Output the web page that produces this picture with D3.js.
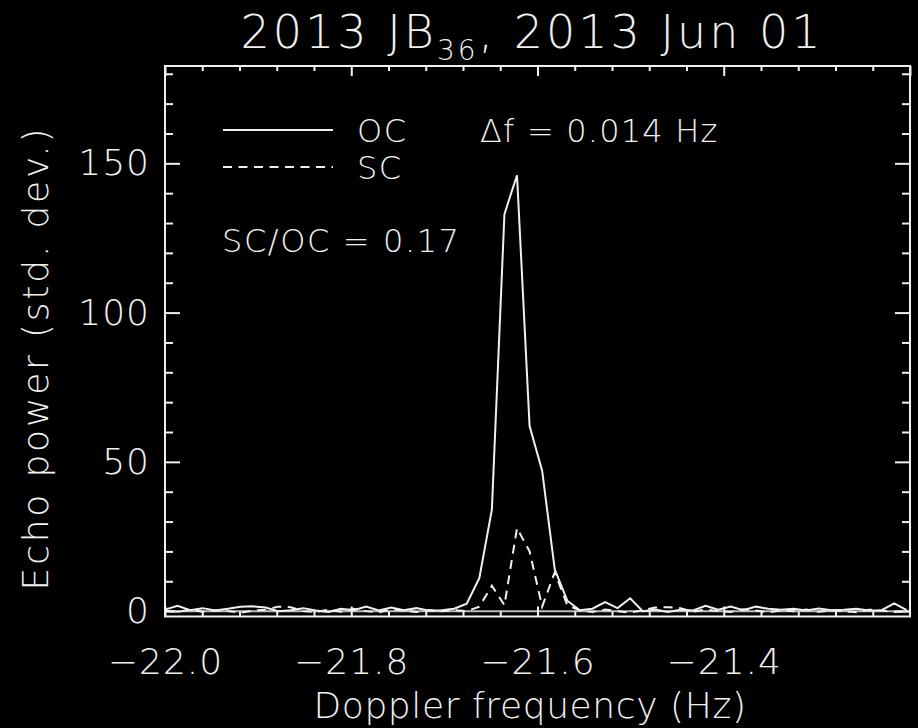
<!DOCTYPE html>
<html>
<head>
<meta charset="utf-8">
<script src="https://cdn.jsdelivr.net/npm/d3@7"></script>
<style>
  body { margin: 0; background: #000; }
  svg { display: block; background: #000; }
  text { fill: #f0f0f0; font-family: "DejaVu Sans", sans-serif; font-weight: 200; }
  .axis path, .axis line { stroke: #f0f0f0; stroke-width: 2; }
</style>
</head>
<body>
<svg width="918" height="728"></svg>
<script>
// Doppler frequency bins (Hz)
var freq = [-22.0000, -21.9865, -21.9730, -21.9595, -21.9460, -21.9325, -21.9190, -21.9055, -21.8920, -21.8785,
            -21.8650, -21.8515, -21.8380, -21.8245, -21.8110, -21.7975, -21.7840, -21.7705, -21.7570, -21.7435,
            -21.7300, -21.7165, -21.7030, -21.6895, -21.6760, -21.6625, -21.6490, -21.6355, -21.6220, -21.6085,
            -21.5950, -21.5815, -21.5680, -21.5545, -21.5410, -21.5275, -21.5140, -21.5005, -21.4870, -21.4735,
            -21.4600, -21.4465, -21.4330, -21.4195, -21.4060, -21.3925, -21.3790, -21.3655, -21.3520, -21.3385,
            -21.3250, -21.3115, -21.2980, -21.2845, -21.2710, -21.2575, -21.2440, -21.2305, -21.2170, -21.2035]
// OC echo power (std. dev.)
var ocPower = [0.5, 1.8, 0.3, 1.0, 0.2, 0.8, 1.5, 1.6, 1.2, 0.0,
               0.3, 1.0, 0.2, -0.3, 0.8, 0.3, 1.5, 0.2, 1.2, 0.3,
               1.0, 0.1, 0.3, 0.8, 2.5, 11, 34, 133, 146, 62,
               47, 14, 3.5, 0.3, 0.8, 3.0, 1.0, 4.3, 0.0, 0.5,
               -0.3, 0.5, 0.2, 1.8, 0.5, 1.5, 0.3, 1.5, 0.8, 0.5,
               0.8, 0.2, 0.9, 0.3, 0.5, 0.8, 0.2, 0.3, 2.6, 0.3]
// SC echo power (std. dev.)
var scPower = [0.2, -0.3, 0.5, -0.2, 0.3, 0.0, -0.5, 0.2, 0.5, 1.5,
               1.3, 0.0, -0.3, 0.5, -0.2, 0.8, 0.0, -0.4, 0.6, 0.2,
               -0.3, 0.4, 0.0, 0.3, 0.0, 1.5, 8.5, 2.0, 27.8, 20,
               1.5, 13, 2.0, 0.2, -0.3, 0.5, 0.0, -0.5, 0.3, 1.2,
               1.3, 1.0, -0.2, 0.5, 0.0, -0.3, 0.6, 0.2, -0.4, 0.3,
               0.0, 0.5, -0.2, 0.3, 0.0, -0.4, 0.5, 0.2, -0.3, 0.0]

var xMajor = [-22.0, -21.8, -21.6, -21.4, -21.2]
var xMinor = [-21.96, -21.92, -21.88, -21.84, -21.76, -21.72, -21.68, -21.64, -21.56, -21.52, -21.48, -21.44, -21.36, -21.32, -21.28, -21.24]
var yMajor = [0, 50, 100, 150]
var yMinor = [10, 20, 30, 40, 60, 70, 80, 90, 110, 120, 130, 140, 160, 170, 180]

var svg = d3.select("svg"),
    pLeft = 165, pRight = 910, pTop = 66, pBottom = 616.5

var x = d3.scaleLinear().domain([-22.0, -21.2]).range([pLeft, pRight]),
    y = d3.scaleLinear().domain([-1.8, 182.6]).range([pBottom, pTop])

// zero line
svg.append("line")
    .attr("x1", pLeft).attr("x2", pRight)
    .attr("y1", y(0)).attr("y2", y(0))
    .attr("stroke", "#bbb").attr("stroke-width", 2)

var line = d3.line()
    .x(function(d, i){ return x(freq[i]) })
    .y(function(d){ return y(d) })

svg.append("path").datum(ocPower)
    .attr("d", line)
    .attr("fill", "none").attr("stroke", "#f0f0f0").attr("stroke-width", 2)
svg.append("path").datum(scPower)
    .attr("d", line)
    .attr("fill", "none").attr("stroke", "#f0f0f0").attr("stroke-width", 2)
    .attr("stroke-dasharray", "9,6.5")

// axes: bottom and left with labels, others only ticks
var tickFont = 36
svg.append("g").attr("class", "axis")
    .attr("transform", "translate(0," + pBottom + ")")
    .call(d3.axisBottom(x).tickValues(xMajor.slice(0, 4)).tickSizeInner(-10).tickSizeOuter(0).tickPadding(32).tickFormat(d3.format(".1f")))
svg.append("g").attr("class", "axis")
    .attr("transform", "translate(0," + pBottom + ")")
    .call(d3.axisBottom(x).tickValues(xMinor).tickSizeInner(-5).tickSizeOuter(0).tickFormat(""))
svg.append("g").attr("class", "axis")
    .attr("transform", "translate(0," + pTop + ")")
    .call(d3.axisTop(x).tickValues(xMajor).tickSizeInner(-10).tickSizeOuter(0).tickFormat(""))
svg.append("g").attr("class", "axis")
    .attr("transform", "translate(0," + pTop + ")")
    .call(d3.axisTop(x).tickValues(xMinor).tickSizeInner(-5).tickSizeOuter(0).tickFormat(""))

svg.append("g").attr("class", "axis")
    .attr("transform", "translate(" + pLeft + ",0)")
    .call(d3.axisLeft(y).tickValues(yMajor).tickSizeInner(-15).tickSizeOuter(0).tickPadding(15).tickFormat(d3.format("d")))
svg.append("g").attr("class", "axis")
    .attr("transform", "translate(" + pLeft + ",0)")
    .call(d3.axisLeft(y).tickValues(yMinor).tickSizeInner(-8).tickSizeOuter(0).tickFormat(""))
svg.append("g").attr("class", "axis")
    .attr("transform", "translate(" + pRight + ",0)")
    .call(d3.axisRight(y).tickValues(yMajor).tickSizeInner(-15).tickSizeOuter(0).tickFormat(""))
svg.append("g").attr("class", "axis")
    .attr("transform", "translate(" + pRight + ",0)")
    .call(d3.axisRight(y).tickValues(yMinor).tickSizeInner(-8).tickSizeOuter(0).tickFormat(""))

svg.selectAll(".axis text")
    .attr("font-size", tickFont).attr("font-family", null)
    .attr("letter-spacing", 1)
    .style("fill", "#f0f0f0")
svg.selectAll(".axis .domain").remove()

// frame
svg.append("rect")
    .attr("x", pLeft).attr("y", pTop)
    .attr("width", pRight - pLeft).attr("height", pBottom - pTop)
    .attr("fill", "none").attr("stroke", "#f0f0f0").attr("stroke-width", 2)

// title
var title = svg.append("text")
    .attr("x", 532).attr("y", 48)
    .attr("text-anchor", "middle")
    .attr("font-size", 46).attr("letter-spacing", 3)
title.append("tspan").text("2013 JB")
title.append("tspan").attr("font-size", 28).attr("dy", 12).text("36")
title.append("tspan").attr("dy", -12).text(", 2013 Jun 01")

// axis titles
svg.append("text")
    .attr("x", 530).attr("y", 718)
    .attr("text-anchor", "middle").attr("font-size", 36).attr("letter-spacing", 0.6)
    .text("Doppler frequency (Hz)")
svg.append("text")
    .attr("transform", "translate(48,358) rotate(-90)")
    .attr("text-anchor", "middle").attr("font-size", 36).attr("letter-spacing", 2.8)
    .text("Echo power (std. dev.)")

// legend
var legend = [{name: "OC", dash: null, y: 130}, {name: "SC", dash: "9,6.5", y: 167}]
legend.forEach(function(l){
    svg.append("line")
        .attr("x1", 223).attr("x2", 333)
        .attr("y1", l.y).attr("y2", l.y)
        .attr("stroke", "#f0f0f0").attr("stroke-width", 2)
        .attr("stroke-dasharray", l.dash)
    svg.append("text")
        .attr("x", 357).attr("y", l.y + 12)
        .attr("font-size", 32).attr("letter-spacing", 1.5)
        .text(l.name)
})

svg.append("text")
    .attr("x", 480).attr("y", 142)
    .attr("font-size", 32).attr("letter-spacing", 1.2)
    .text("\u0394f = 0.014 Hz")
svg.append("text")
    .attr("x", 222).attr("y", 252)
    .attr("font-size", 32).attr("letter-spacing", 1.6)
    .text("SC/OC = 0.17")
</script>
</body>
</html>
